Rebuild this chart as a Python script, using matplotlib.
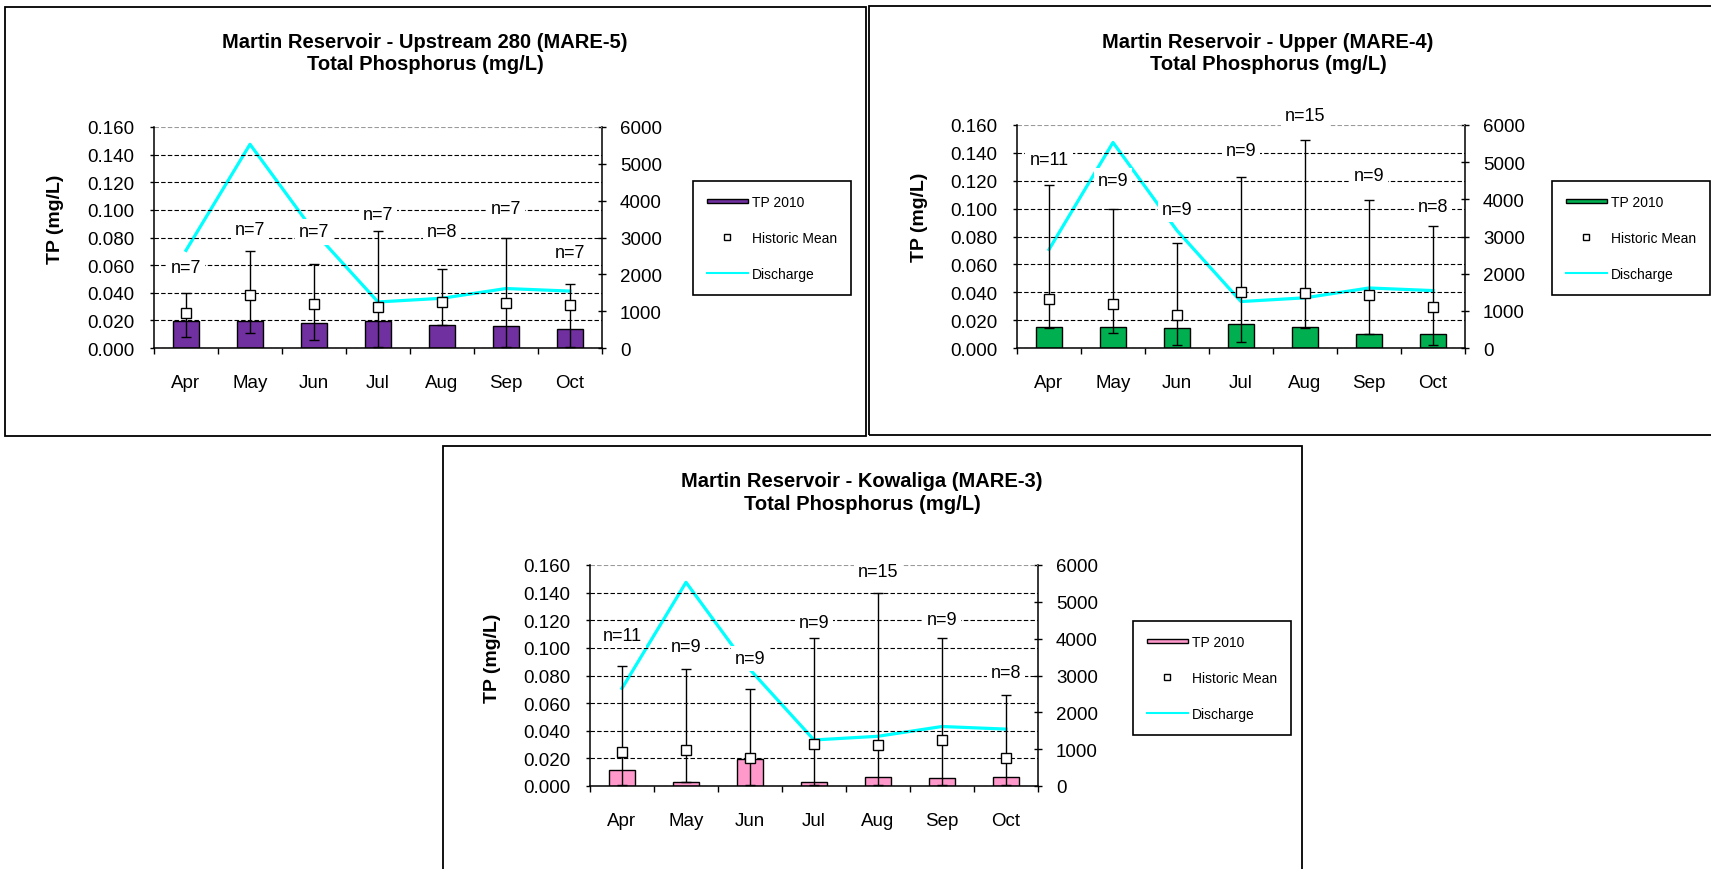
import matplotlib
matplotlib.use('Agg')
import matplotlib.pyplot as plt
from matplotlib.patches import Rectangle
from matplotlib.lines import Line2D
from matplotlib.legend_handler import HandlerPatch
import numpy as np

plt.rcParams['font.family'] = ['Liberation Sans', 'DejaVu Sans']

# Valeurs communes aux trois stations
months = ['Apr', 'May', 'Jun', 'Jul', 'Aug', 'Sep', 'Oct']
discharge = [2650, 5530, 3160, 1250, 1350, 1615, 1545]

# MARE-5 (Upstream 280)
tp_mare5 = [0.0195, 0.0195, 0.0178, 0.0195, 0.0166, 0.0157, 0.0135]
mean_mare5 = [0.0253, 0.0386, 0.0318, 0.0299, 0.0330, 0.0325, 0.0308]
hi_mare5 = [0.0398, 0.0704, 0.0605, 0.0848, 0.0569, 0.0800, 0.0460]
lo_mare5 = [0.0077, 0.0111, 0.0058, 0.0010, 0.0170, 0.0010, 0.0010]
n_mare5 = ['n=7', 'n=7', 'n=7', 'n=7', 'n=8', 'n=7', 'n=7']
n_y_mare5 = [0.058, 0.086, 0.084, 0.097, 0.084, 0.101, 0.069]

# MARE-4 (Upper)
tp_mare4 = [0.0153, 0.0153, 0.0144, 0.0175, 0.0153, 0.0098, 0.0098]
mean_mare4 = [0.0354, 0.0318, 0.0237, 0.0400, 0.0397, 0.0380, 0.0292]
hi_mare4 = [0.1172, 0.0997, 0.0751, 0.1230, 0.1495, 0.1064, 0.0873]
lo_mare4 = [0.0144, 0.0110, 0.0020, 0.0045, 0.0144, 0.0098, 0.0020]
n_mare4 = ['n=11', 'n=9', 'n=9', 'n=9', 'n=15', 'n=9', 'n=8']
n_y_mare4 = [0.135, 0.120, 0.0995, 0.1414, 0.167, 0.124, 0.1014]

# MARE-3 (Kowaliga)
tp_mare3 = [0.0113, 0.0031, 0.0193, 0.0031, 0.0065, 0.0055, 0.0065]
mean_mare3 = [0.0249, 0.0263, 0.0203, 0.0304, 0.0297, 0.0331, 0.0205]
hi_mare3 = [0.0871, 0.0849, 0.0702, 0.1071, 0.1395, 0.1071, 0.0659]
lo_mare3 = [0.0005, 0.0031, 0.0005, 0.0005, 0.0005, 0.0005, 0.0005]
n_mare3 = ['n=11', 'n=9', 'n=9', 'n=9', 'n=15', 'n=9', 'n=8']
n_y_mare3 = [0.109, 0.101, 0.0924, 0.1187, 0.155, 0.1207, 0.0825]

W, H = 1711, 870


# Conversion pixels -> coordonnees figure
def fx(x):
    return x / W


def fy(y):
    return 1 - y / H


def thin_bar(legend, orig_handle, xdescent, ydescent, width, height, fontsize):
    return Rectangle((-xdescent, -ydescent + height * 0.3), width, height * 0.4)


# Cadre autour d'un graphique
def frame(fig, x0, y0, x1, y1):
    fig.add_artist(Rectangle((fx(x0), fy(y1)), fx(x1 - x0), (y1 - y0) / H,
                             transform=fig.transFigure, fill=False,
                             edgecolor='black', linewidth=1.3))


def draw_panel(fig, box, title, title_xy, ylab_xy, legend_xy, color,
               tp, mean, lo, hi, n_text, n_y):
    left, top, right, bottom = box
    ax = fig.add_axes([fx(left), fy(bottom), (right - left) / W, (bottom - top) / H])
    ax2 = ax.twinx()
    ax.set_zorder(ax2.get_zorder() + 1)
    ax.patch.set_visible(False)

    x = np.arange(len(months))
    mean = np.array(mean)
    yerr = [mean - np.array(lo), np.array(hi) - mean]

    ax.bar(x, tp, width=0.4, color=color, edgecolor='black', linewidth=1, zorder=2)
    ax.errorbar(x, mean, yerr=yerr, fmt='s', mfc='white', mec='black', ms=7,
                mew=1, ecolor='black', elinewidth=1, capsize=3.5, capthick=1, zorder=3)
    ax2.plot(x, discharge, color='#00FFFF', linewidth=2.3)

    # Axes
    ax.set_xlim(-0.5, 6.5)
    ax.set_ylim(0, 0.16)
    ax2.set_ylim(0, 6000)
    ax.set_yticks(np.arange(0, 0.161, 0.02))
    ax.set_yticklabels(['%.3f' % v for v in np.arange(0, 0.161, 0.02)])
    ax2.set_yticks(np.arange(0, 6001, 1000))
    ax.set_xticks(np.arange(-0.5, 7, 1))
    ax.set_xticklabels([])
    ax.set_xticks(x, minor=True)
    ax.set_xticklabels(months, minor=True)

    ax.tick_params(axis='y', direction='out', length=3, width=1, pad=11, labelsize=13.5)
    ax.tick_params(axis='x', which='major', direction='out', length=4.5, width=1)
    ax.tick_params(axis='x', which='minor', length=0, pad=18.5, labelsize=13.5)
    ax2.tick_params(axis='y', direction='inout', length=6, width=1, pad=10, labelsize=13.5)

    ax.yaxis.grid(True, linestyle=(0, (4, 2)), color='black', linewidth=0.8)
    ax.set_axisbelow(True)
    ax.get_ygridlines()[-1].set_color('#9a9a9a')

    for a in (ax, ax2):
        a.spines['top'].set_visible(False)
        for s in a.spines.values():
            s.set_linewidth(1.1)
    ax.spines['right'].set_visible(False)
    ax2.spines['left'].set_visible(False)
    ax2.spines['bottom'].set_visible(False)

    # Nombre d'echantillons
    for i in range(len(months)):
        ax.text(x[i], n_y[i], n_text[i], ha='center', va='center', fontsize=13,
                bbox=dict(facecolor='white', edgecolor='none', pad=3),
                zorder=6, clip_on=False)

    fig.text(fx(title_xy[0]), fy(title_xy[1]), title, ha='center', va='center',
             fontsize=14.5, fontweight='bold', linespacing=1.2)
    fig.text(fx(ylab_xy[0]), fy(ylab_xy[1]), 'TP (mg/L)', rotation=90,
             ha='center', va='center', fontsize=14, fontweight='bold')

    handles = [Rectangle((0, 0), 1, 1, facecolor=color, edgecolor='black', linewidth=1),
               Line2D([], [], linestyle='none', marker='s', mfc='white', mec='black',
                      ms=5, mew=1),
               Line2D([], [], color='#00FFFF', linewidth=1.5)]
    leg = ax.legend(handles, ['TP 2010', 'Historic Mean', 'Discharge'],
                    loc='upper left', bbox_to_anchor=(fx(legend_xy[0]), fy(legend_xy[1])),
                    bbox_transform=fig.transFigure, borderaxespad=0,
                    frameon=True, fancybox=False, framealpha=1, edgecolor='black',
                    fontsize=10, borderpad=1.0, labelspacing=1.6,
                    handlelength=2.95, handletextpad=0.3,
                    handler_map={Rectangle: HandlerPatch(patch_func=thin_bar)})
    leg.get_frame().set_linewidth(1.2)
    return ax


fig = plt.figure(figsize=(W / 100, H / 100), dpi=100)

frame(fig, 5, 8, 866, 437)
frame(fig, 869, 7, 1740, 436)
frame(fig, 443, 447, 1302, 900)

draw_panel(fig, (154, 128, 602, 349),
           'Martin Reservoir - Upstream 280 (MARE-5)\nTotal Phosphorus (mg/L)',
           (425, 53), (56, 219), (693, 182), '#7030A0',
           tp_mare5, mean_mare5, lo_mare5, hi_mare5, n_mare5, n_y_mare5)

draw_panel(fig, (1017, 126, 1465, 349),
           'Martin Reservoir - Upper (MARE-4)\nTotal Phosphorus (mg/L)',
           (1268, 53), (919, 217), (1552, 182), '#00B050',
           tp_mare4, mean_mare4, lo_mare4, hi_mare4, n_mare4, n_y_mare4)

draw_panel(fig, (590, 566, 1038, 787),
           'Martin Reservoir - Kowaliga (MARE-3)\nTotal Phosphorus (mg/L)',
           (862, 493), (492, 658), (1133, 622), '#FF99CC',
           tp_mare3, mean_mare3, lo_mare3, hi_mare3, n_mare3, n_y_mare3)

plt.savefig('out.png', dpi=100)
